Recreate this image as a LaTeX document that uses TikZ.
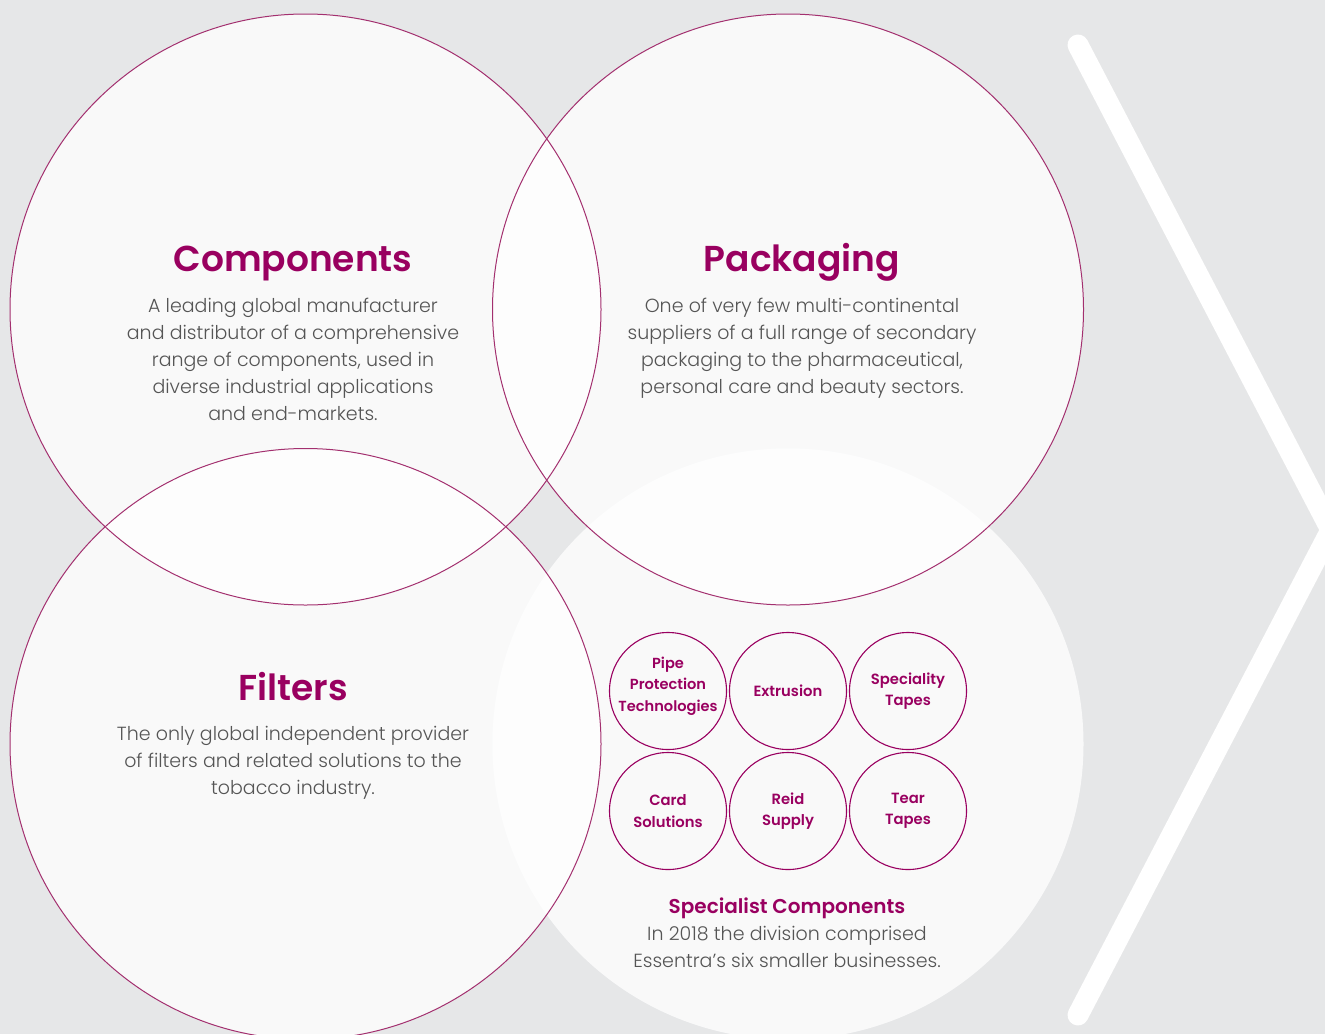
\documentclass[tikz,border=0pt]{standalone}
\usepackage{fontspec}
\setmainfont{Poppins Light}
\newfontfamily\headfont{Poppins SemiBold}
\definecolor{essbg}{HTML}{E6E7E8}
\definecolor{esspurple}{HTML}{990060}
\definecolor{essring}{HTML}{A3306F}
\definecolor{esstext}{HTML}{555555}

\tikzset{
  bigfill/.style={circle, minimum size=591pt, inner sep=0pt, fill=white, fill opacity=0.78},
  ring/.style={draw=essring, line width=1pt},
  unit/.style={circle, minimum size=117pt, inner sep=0pt, draw=esspurple, line width=1.1pt,
    text=esspurple, align=center, font=\headfont\fontsize{14.8}{21.5}\selectfont},
  unittext/.style={text=esspurple, align=center, font=\headfont\fontsize{14.6}{21.5}\selectfont},
  title/.style={text=esspurple, font=\headfont\fontsize{36}{40}\selectfont},
  body/.style={text=esstext, align=center, font=\fontsize{19}{27}\selectfont},
  chevron/.style={draw=white, line width=21pt, line cap=round, miter limit=20}
}

\begin{document}
\begin{tikzpicture}[x=1pt,y=-1pt]
            \fill[essbg] (0,0) rectangle (1325,1034);
            \useasboundingbox (0,0) rectangle (1325,1034);
            % chevron
            \coordinate (chtop) at (1078,45);
            \coordinate (chtip) at (1331,530);
            \coordinate (chbot) at (1078,1015);
            \draw[chevron] (chtop) -- (chtip) -- (chbot);
            % the four divisions
            \node[bigfill] (spec) at (788,744) {};
            \node[bigfill] (comp) at (305.5,309.5) {};
            \node[bigfill] (pack) at (788,309.5) {};
            \node[bigfill] (filt) at (305.5,744) {};
            \draw[ring] (comp.center) circle[radius=295.5pt];
            \draw[ring] (pack.center) circle[radius=295.5pt];
            \draw[ring] (filt.center) circle[radius=295.5pt];
            % texts
            \node[title] (comptitle) at (293,264) {Components};
            \node[body] (compbody) at (293,359) {A leading global manufacturer\\and distributor of a comprehensive\\range of components, used in\\diverse industrial applications\\and end-markets.};
            \node[title] (packtitle) at (802,262) {Packaging};
            \node[body] (packbody) at (802,348.5) {One of very few multi-continental\\suppliers of a full range of secondary\\packaging to the pharmaceutical,\\personal care and beauty sectors.};
            \node[title] (filttitle) at (293,687) {Filters};
            \node[body] (filtbody) at (293,763) {The only global independent provider\\of filters and related solutions to the\\tobacco industry.};
            % specialist components
            \node[unit] (pipe) at (668,691) {};
            \node[unittext] (pipetext) at ([yshift=5pt]pipe.center) {Pipe\\Protection\\Technologies};
            \node[unit] (extr) at (788,691) {Extrusion};
            \node[unit] (stape) at (908,691) {Speciality\\Tapes};
            \node[unit] (card) at (668,811) {Card\\Solutions};
            \node[unit] (reid) at (788,811) {Reid\\Supply};
            \node[unit] (ttape) at (908,811) {Tear\\Tapes};
            \node[text=esspurple, font=\headfont\fontsize{20}{27}\selectfont] (spectitle) at (787,908) {Specialist Components};
            \node[body] (specbody) at (787,947) {In 2018 the division comprised\\Essentra’s six smaller businesses.};
        \end{tikzpicture}
\end{document}
